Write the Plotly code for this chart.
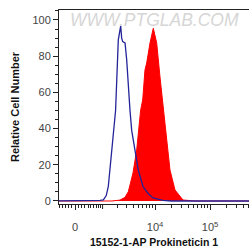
import numpy as np
import plotly.graph_objects as go

# Fluorescence intensity (x) and relative cell number (y)
blue_x = [-600, 600, 877, 1040, 1200, 1325, 1548, 1850, 2088, 2320, 2420, 2531, 2800,
          3008, 3465, 3725, 4288, 4930, 6013, 7500, 9156, 13925, 20000, 600000]
blue_y = [0, 0, 0.3, 0.6, 3, 8, 28, 50, 89, 96.7, 90, 88, 87.3,
          78, 50, 39, 28, 17, 8, 4, 1.7, 0.3, 0, 0]

red_x = [-600, 1573, 2250, 2800, 3222, 3938, 4606, 5450, 5936, 6538, 7028, 8071, 9268,
         10689, 12278, 14098, 16254, 18669, 23023, 32186, 53193, 600000]
red_y = [0, 0, 0.5, 2, 5.1, 15.5, 28.2, 50.3, 55.8, 72.4, 76.2, 87.3, 95.4,
         87.3, 68.5, 50.3, 32, 17.1, 6.1, 0.55, 0, 0]

x_major_vals = [0, 10000, 100000]
x_major_text = ["0", "10<sup>4</sup>", "10<sup>5</sup>"]
x_unlabeled_major = [1000]
y_ticks = [0, 20, 40, 60, 80, 100]

x_title = "15152-1-AP Prokineticin 1"
y_title = "Relative Cell Number"
watermark = "WWW.PTGLAB.COM"

W = 700.0  # biexponential-like linear width


def tf(v):
    return np.arcsinh(np.asarray(v, dtype=float) / W) / np.log(10)


minor_vals = list(range(-500, 1000, 100)) + \
    [k * 1000 for k in range(2, 10)] + [k * 10000 for k in range(2, 10)] + \
    [k * 100000 for k in range(2, 6)]

font_family = "Liberation Sans, Arial, sans-serif"

fig = go.Figure()
fig.add_trace(go.Scatter(x=tf(red_x), y=red_y, mode="lines", fill="tozeroy",
                         fillcolor="#ff0000", line=dict(color="#ff0000", width=1),
                         hoverinfo="skip"))
fig.add_trace(go.Scatter(x=tf(blue_x), y=blue_y, mode="lines",
                         line=dict(color="#24249a", width=1.3), hoverinfo="skip"))

shapes = [dict(type="line", xref="x", yref="paper", x0=float(tf(v)), x1=float(tf(v)),
               y0=0, y1=-5 / 194, line=dict(color="#222", width=1))
          for v in x_unlabeled_major]

fig.update_layout(
    width=249, height=250,
    margin=dict(l=59, r=0, t=10, b=46),
    plot_bgcolor="white", paper_bgcolor="white",
    showlegend=False, hovermode=False,
    font=dict(family=font_family, size=11, color="#333"),
    xaxis=dict(
        range=[-0.291, 3.164], showgrid=False, zeroline=False, automargin=False,
        showline=True, linecolor="#222", linewidth=1, mirror=True,
        tickmode="array", tickvals=list(tf(x_major_vals)), ticktext=x_major_text,
        ticks="outside", ticklen=5, tickcolor="#222", tickwidth=1,
        ticklabelstandoff=8,
        tickfont=dict(size=11, color="#444"),
        minor=dict(tickmode="array", tickvals=list(tf(minor_vals)), ticks="outside",
                   ticklen=3, tickcolor="#222", tickwidth=1),
        title=dict(text="<b>" + x_title + "</b>", font=dict(size=10.5, color="#111"),
                   standoff=6),
    ),
    yaxis=dict(
        range=[-1.66, 105.5], showgrid=False, zeroline=False, automargin=False,
        showline=True, linecolor="#222", linewidth=1,
        tickmode="array", tickvals=y_ticks,
        ticks="outside", ticklen=5, tickcolor="#222", tickwidth=1,
        tickfont=dict(size=11, color="#444"),
        minor=dict(dtick=5, ticks="outside", ticklen=3, tickcolor="#222", tickwidth=1),
        title=dict(text="<b>" + y_title + "</b>", font=dict(size=11, color="#111"),
                   standoff=10),
    ),
    shapes=shapes,
    annotations=[dict(
        text="<i>" + watermark + "</i>", xref="paper", yref="paper",
        x=0.045, y=0.948, xanchor="left", yanchor="middle", showarrow=False,
        font=dict(size=17.5, color="#d6d6d6", family=font_family),
    )],
)

fig.write_html("out.html",
               config={"displayModeBar": False, "staticPlot": True},
               post_script="document.body.style.margin='0';"
                           "document.body.style.overflow='hidden';")
